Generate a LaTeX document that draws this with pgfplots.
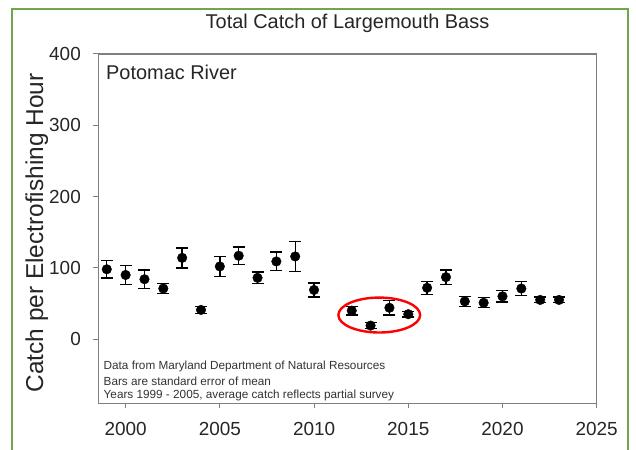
\documentclass[border=0pt]{standalone}
\usepackage{fontspec}
\setmainfont{Liberation Sans}
\usepackage{pgfplots}
\pgfplotsset{compat=1.18}
\usepackage{pgfplotstable}
\definecolor{framegreen}{HTML}{70A845}
\definecolor{axisgray}{HTML}{7F7F7F}
\pgfplotstableread{
yr y err
1999 98 12
2000 90 13
2001 84 13
2002 71 7
2003 114 14
2004 41 5
2005 102 14
2006 117 12
2007 86 8
2008 109 13
2009 116 21
2010 69 10
2012 40 6
2013 19 4
2014 44 10
2015 35 4
2016 72 9
2017 87 10
2018 53 7
2019 51 7
2020 60 8
2021 71 10
2022 55 4
2023 55 4
}\bassdata
\begin{document}
\begin{tikzpicture}[x=1bp,y=1bp]
\useasboundingbox (0,0) rectangle (636,450);
\fill[white] (0,0) rectangle (636,450);
\draw[framegreen, line width=2.5bp] (12,-5) -- (12,441) -- (628,441) -- (628,-5);
\begin{axis}[
  at={(98.3bp,46.7bp)}, anchor=south west,
  scale only axis, width=498.4bp, height=349.3bp,
  xmin=1998.55, xmax=2025, ymin=-90, ymax=400,
  xtick={2000,2005,...,2025}, ytick={0,100,...,400},
  tick align=outside, tick pos=left,
  major tick length=5bp,
  every tick/.style={axisgray, line width=1bp},
  axis line style={axisgray, line width=1.3bp},
  /pgf/number format/1000 sep={},
  /pgf/number format/assume math mode=true,
  ticklabel style={font=\fontsize{19}{19}\selectfont, text=black!85},
  yticklabel style={xshift=-9bp},
  xticklabel style={yshift=-10bp},
  clip=false,
]
\addplot[only marks, mark=*, mark size=4.8bp, black,
  error bars/.cd, y dir=both, y explicit,
  error bar style={line width=1.4bp, black},
  error mark options={rotate=90, mark size=6bp, line width=1.4bp, black}]
  table[x=yr, y=y, y error=err] {\bassdata};
\draw[red, line width=2.4bp] (axis cs:2013.46,33.8) ellipse [x radius=2.17, y radius=24.5];
\end{axis}
\node[anchor=base, font=\fontsize{20}{20}\selectfont, text=black!85] at (347.5,421) {Total Catch of Largemouth Bass};
\node[anchor=base west, inner sep=0pt, font=\fontsize{20}{20}\selectfont, text=black!85] at (106,370) {Potomac River};
\node[anchor=base, rotate=90, inner sep=0pt, font=\fontsize{24.5}{24.5}\selectfont, text=black!85] at (43,217) {Catch per Electrofishing Hour};
\begin{scope}[every node/.style={anchor=base west, inner sep=0pt, font=\fontsize{11.8}{11.8}\selectfont, text=black!80}]
\node at (103.5,80) {Data from Maryland Department of Natural Resources};
\node at (103.5,64.5) {Bars are standard error of mean};
\node at (103.5,51) {Years 1999 - 2005, average catch reflects partial survey};
\end{scope}
\end{tikzpicture}
\end{document}
